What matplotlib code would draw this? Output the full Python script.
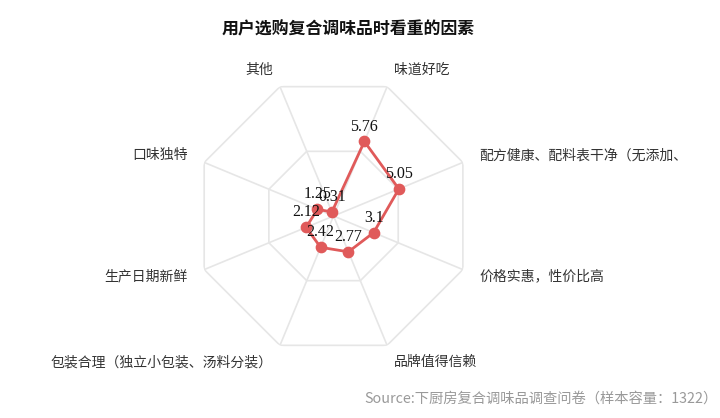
import matplotlib
matplotlib.use("Agg")
import matplotlib.pyplot as plt
import numpy as np

plt.rcParams["font.family"] = ["Noto Sans CJK SC", "DejaVu Sans"]

CATEGORIES = ["味道好吃", "配方健康、配料表干净（无添加、", "价格实惠，性价比高", "品牌值得信赖",
              "包装合理（独立小包装、汤料分装）", "生产日期新鲜", "口味独特", "其他"]
VALUES = [5.76, 5.05, 3.1, 2.77, 2.42, 2.12, 1.25, 0.31]
R_MAX = 10
RINGS = [5, 10]

LINE_COLOR = "#e05a5a"
GRID_COLOR = "#e6e6e6"

n = len(CATEGORIES)
angles = np.deg2rad(22.5 + 45 * np.arange(n))
closed = np.append(angles, angles[0])

fig = plt.figure(figsize=(7.2, 4.18), dpi=100)
ax = fig.add_axes([0.2688, 0.1483, 0.3889, 0.6699], projection="polar")
ax.set_theta_zero_location("N")
ax.set_theta_direction(-1)
ax.set_ylim(0, R_MAX)
ax.grid(False)
ax.set_xticks([])
ax.set_yticks([])
ax.spines["polar"].set_visible(False)
ax.patch.set_alpha(0)

# octagon grid
for r in RINGS:
    ax.plot(closed, [r] * len(closed), color=GRID_COLOR, lw=1.2, zorder=1)
for a in angles:
    ax.plot([a, a], [0, R_MAX], color=GRID_COLOR, lw=1.2, zorder=1)

# data
vals = np.append(VALUES, VALUES[0])
ax.plot(closed, vals, color=LINE_COLOR, lw=2, zorder=3)
ax.scatter(angles, VALUES, s=55, color=LINE_COLOR, zorder=4)
for a, v in zip(angles, VALUES):
    ax.annotate(f"{v:g}", (a, v), xytext=(0, 5), textcoords="offset points",
                ha="center", va="bottom", fontsize=11.5, family="Liberation Serif",
                color="#111111", zorder=5)

# category labels
for a, lab in zip(angles, CATEGORIES):
    deg = np.rad2deg(a)
    ha = "left" if deg < 180 else "right"
    ax.text(a, 11.3, lab, ha=ha, va="center", fontsize=10, color="#333333")

fig.text(0.484, 0.93, "用户选购复合调味品时看重的因素", ha="center", va="center",
         fontsize=12.2, fontweight="bold", color="#111111")
fig.text(0.996, 0.047, "Source:下厨房复合调味品调查问卷（样本容量：1322）", ha="right",
         va="center", fontsize=10.3, color="#999999")

fig.savefig("out.png", dpi=100)
